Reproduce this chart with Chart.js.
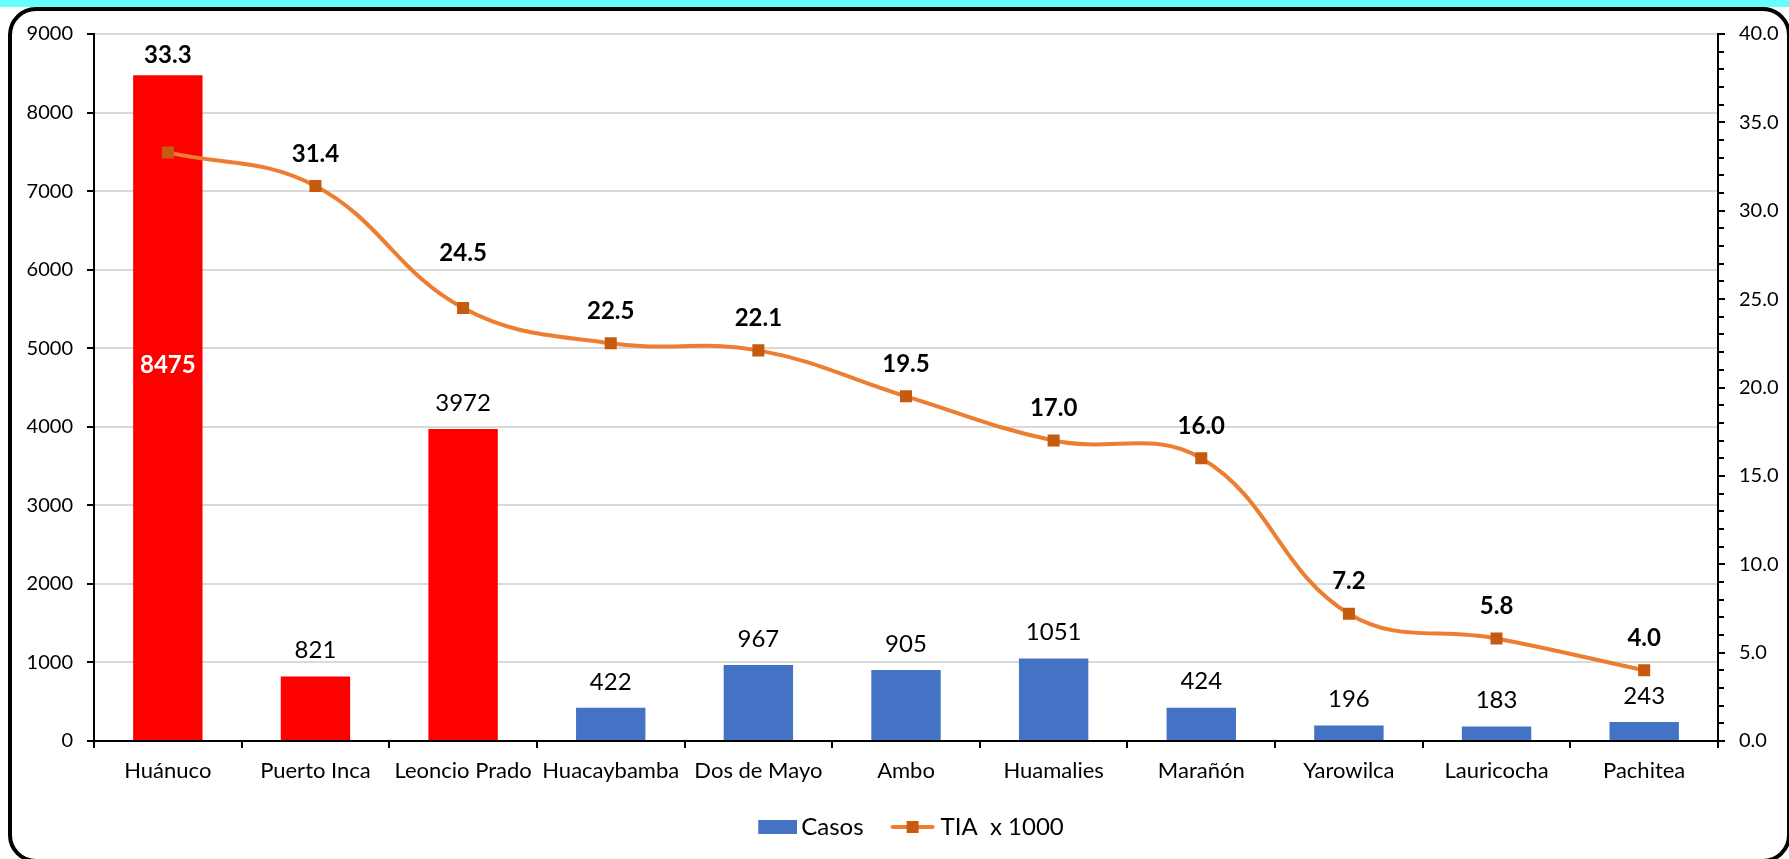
<!DOCTYPE html>
<html>
<head>
<meta charset="utf-8">
<script src="https://cdn.jsdelivr.net/npm/chart.js@4.4.1/dist/chart.umd.min.js"></script>
<style>
html,body{margin:0;padding:0;background:#fff;width:1789px;height:859px;overflow:hidden;}
#strip{position:absolute;left:0;top:0;width:1789px;height:7px;background:#66FFFF;}
#frame{position:absolute;left:8px;top:7px;width:1775px;height:848px;border:4px solid #000;border-radius:28px;background:#fff;}
#wrap{position:absolute;left:0;top:0;width:1789px;height:859px;}
</style>
</head>
<body>
<div id="strip"></div>
<div id="frame"></div>
<div id="wrap"><canvas id="c" width="1789" height="859"></canvas></div>
<script>
// ---- data ----
const categories = ['Huánuco','Puerto Inca','Leoncio Prado','Huacaybamba','Dos de Mayo','Ambo','Huamalies','Marañón','Yarowilca','Lauricocha','Pachitea'];
const casos = [8475, 821, 3972, 422, 967, 905, 1051, 424, 196, 183, 243];
const tia = [33.3, 31.4, 24.5, 22.5, 22.1, 19.5, 17.0, 16.0, 7.2, 5.8, 4.0];
const highlighted = ['Huánuco','Puerto Inca','Leoncio Prado'];
const seriesNames = ['Casos', 'TIA  x 1000'];
const leftAxisMax = 9000, leftAxisStep = 1000;
const rightAxisMax = 40, rightAxisStep = 5, rightMinorStep = 1;

// ---- styles ----
const FONT = 'Lato';
const RED = '#FF0000', BLUE = '#4472C4', ORANGE = '#ED7D31', DORANGE = '#C55A11';
const barColors = categories.map(c => highlighted.includes(c) ? RED : BLUE);

function legendImage(kind){
  const c = document.createElement('canvas');
  c.width = 56; c.height = 16;
  const g = c.getContext('2d');
  if (kind === 'bar') {
    g.fillStyle = BLUE; g.fillRect(17, 1, 39, 14);
  } else {
    g.strokeStyle = ORANGE; g.lineWidth = 4; g.lineCap = 'round';
    g.beginPath(); g.moveTo(12, 8); g.lineTo(52, 8); g.stroke();
    g.fillStyle = DORANGE; g.fillRect(26, 2, 12, 12);
  }
  return c;
}
const legendImgs = [legendImage('bar'), legendImage('line')];

const labelPlugin = {
  id: 'valueLabels',
  afterDatasetsDraw(chart, args, opts){
    const ctx = chart.ctx;
    ctx.save();
    ctx.textAlign = 'center'; ctx.textBaseline = 'middle';
    const bm = chart.getDatasetMeta(0);
    bm.data.forEach((el, i) => {
      const v = chart.data.datasets[0].data[i];
      const ov = opts.barOverride[i];
      if (ov) {
        ctx.font = 'bold 24px ' + FONT; ctx.fillStyle = ov.color;
        ctx.fillText(String(v), el.x, el.y + ov.dy);
      } else {
        ctx.font = '24px ' + FONT; ctx.fillStyle = '#000';
        ctx.fillText(String(v), el.x, el.y - opts.barLift);
      }
    });
    const lm = chart.getDatasetMeta(1);
    ctx.font = 'bold 24px ' + FONT; ctx.fillStyle = '#000';
    lm.data.forEach((el, i) => {
      const v = chart.data.datasets[1].data[i];
      const lift = (opts.lineLift[i] !== undefined) ? opts.lineLift[i] : opts.lineLiftDefault;
      ctx.fillText(v.toFixed(1), el.x, el.y - lift);
    });
    ctx.restore();
  },
  afterDraw(chart){
    const s = chart.scales.y1, ctx = chart.ctx;
    ctx.save(); ctx.strokeStyle = '#000'; ctx.lineWidth = 2;
    for (let v = 0; v <= rightAxisMax; v += rightMinorStep) {
      if (v % rightAxisStep === 0) continue;
      const y = Math.round(s.getPixelForValue(v));
      ctx.beginPath(); ctx.moveTo(s.left, y); ctx.lineTo(s.left + 6, y); ctx.stroke();
    }
    ctx.restore();
  }
};

const tickFont = {family: FONT, size: 20};
new Chart(document.getElementById('c'), {
  data: {
    labels: categories,
    datasets: [
      {type: 'bar', label: seriesNames[0], data: casos, backgroundColor: barColors, yAxisID: 'y', order: 2,
       barPercentage: 0.47, categoryPercentage: 1},
      {type: 'line', label: seriesNames[1], data: tia, yAxisID: 'y1', order: 1,
       borderColor: ORANGE, borderWidth: 4, tension: 0.4, fill: false,
       pointStyle: 'rect', pointRadius: 8.5, pointHoverRadius: 8.5,
       pointBackgroundColor: DORANGE, pointBorderColor: DORANGE, pointBorderWidth: 0}
    ]
  },
  options: {
    responsive: false, animation: false, devicePixelRatio: 1,
    layout: {padding: {left: 24, right: 0, top: 34, bottom: 10}},
    plugins: {
      tooltip: {enabled: false},
      legend: {
        position: 'bottom',
        labels: {
          usePointStyle: true, pointStyleWidth: 40, padding: 25,
          font: {family: FONT, size: 24}, color: '#000',
          generateLabels(chart){
            const items = Chart.defaults.plugins.legend.labels.generateLabels(chart);
            items.forEach(it => { it.pointStyle = legendImgs[it.datasetIndex]; });
            items.sort((a, b) => a.datasetIndex - b.datasetIndex);
            return items;
          }
        }
      },
      valueLabels: {
        barLift: 26,
        barOverride: {0: {dy: 290, color: '#fff'}},
        lineLiftDefault: 32,
        lineLift: {0: 97, 2: 55}
      }
    },
    scales: {
      x: {
        offset: true,
        grid: {offset: true, drawOnChartArea: false, color: '#000', lineWidth: 2, tickLength: 7, tickColor: '#000'},
        border: {color: '#000', width: 2},
        ticks: {font: {family: FONT, size: 22}, color: '#000', padding: 10, maxRotation: 0, autoSkip: false},
        afterFit(s){ s.height = 49; }
      },
      y: {
        position: 'left', min: 0, max: leftAxisMax,
        ticks: {stepSize: leftAxisStep, font: tickFont, color: '#000', padding: 14, callback: v => String(v)},
        grid: {color: '#D9D9D9', lineWidth: 2, tickColor: '#000', tickLength: 7},
        border: {color: '#000', width: 2},
        afterFit(s){ s.width = 70; }
      },
      y1: {
        position: 'right', min: 0, max: rightAxisMax,
        ticks: {stepSize: rightAxisStep, font: tickFont, color: '#000', padding: 14, callback: v => Number(v).toFixed(1)},
        grid: {drawOnChartArea: false, color: '#000', lineWidth: 2, tickColor: '#000', tickLength: 7},
        border: {color: '#000', width: 2},
        afterFit(s){ s.width = 71; }
      }
    }
  },
  plugins: [labelPlugin]
});
</script>
</body>
</html>
